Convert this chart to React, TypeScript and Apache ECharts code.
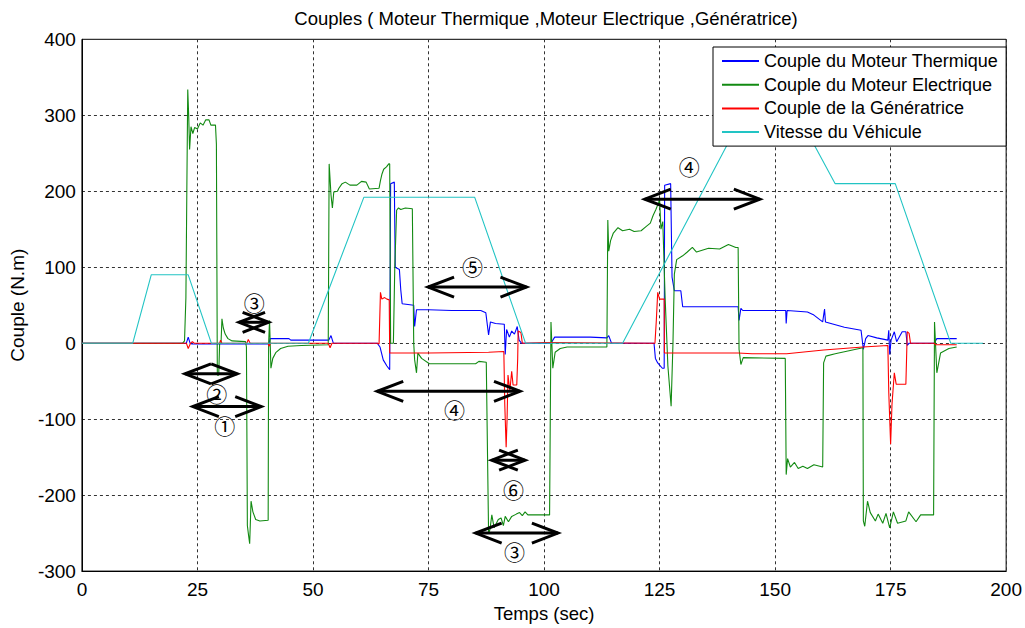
import React, { useEffect, useRef } from "react";
import * as echarts from "echarts";

const FONT = "'Liberation Sans', Arial, sans-serif";
const CIRCLED_FONT = "'Noto Sans CJK JP', 'DejaVu Sans', sans-serif";

const seriesNames = [
  "Couple du Moteur Thermique",
  "Couple du Moteur Electrique",
  "Couple de la Génératrice",
  "Vitesse du Véhicule",
];
const seriesColors = ["#0000ff", "#128a12", "#ff0000", "#22c4c4"];

// Couple du Moteur Thermique [temps (s), couple (N.m)]
const coupleMT: [number, number][] = [
  [0, 0], [22.6, 0], [23.0, 8], [23.4, 0], [23.8, -1], [40.5, -1], [40.7, 6], [44.8, 6], [45.2, 4],
  [53.4, 4], [53.9, 10], [54.4, 0], [63.9, 0], [64.5, -5], [65.2, -22], [66.0, -30], [66.6, -35],
  [66.8, 210], [67.6, 212], [67.8, 100], [68.7, 97], [69.0, 70], [69.3, 52], [71.8, 50], [72.0, 22],
  [72.4, 44], [75, 44], [80, 43], [86.3, 43], [87.4, 40], [88.0, 11], [88.4, 28], [89.5, 26],
  [91.4, 25], [91.6, -15], [91.9, 18], [92.5, 8], [93.0, 16], [93.6, 12], [94.2, 22], [94.6, 4],
  [95.1, 0], [101.5, 0], [102.3, 8], [110, 8], [113.6, 7], [114.0, 10], [114.6, 0], [123.8, 0],
  [124.1, -20], [124.6, -26], [125.6, -33], [126.0, -33], [126.1, 208], [127.4, 210], [127.7, 87],
  [128.2, 69], [129.6, 69], [130.0, 48], [142.0, 48], [142.2, 30], [142.6, 46], [143.0, 43],
  [152.3, 43], [152.4, 26], [152.6, 43], [157, 41], [158.4, 37], [160.3, 28], [160.7, 45],
  [160.9, 28], [165, 21], [168.6, 17], [169.1, -8], [169.6, 6], [170.1, 10], [172, 7], [174.4, 4],
  [174.6, 17], [174.8, -15], [175.1, 4], [175.8, 15], [176.3, 2], [177.5, 15], [178.3, 15],
  [178.6, -3], [179, 0], [184.4, 0], [185.0, 6], [189.3, 6],
];

// Couple du Moteur Electrique
const coupleME: [number, number][] = [
  [0, 0], [21.8, 0], [22.2, 3], [22.5, 60], [22.7, 200], [22.9, 334], [23.1, 300], [23.3, 255],
  [23.6, 285], [24.0, 276], [24.4, 284], [25.0, 282], [25.6, 290], [26.2, 287], [26.8, 294],
  [27.5, 294], [27.9, 287], [28.9, 287], [29.1, 262], [29.3, -42], [29.6, -42], [29.8, 0],
  [30.1, 0], [30.3, 32], [30.6, 20], [31.0, 12], [31.6, 6], [32.5, 3], [35.4, 2], [35.6, -5],
  [35.8, -240], [36.0, -250], [36.3, -264], [36.6, -208], [37.0, -222], [37.6, -232], [38.5, -234],
  [40.3, -233], [40.4, 0], [40.6, 30], [40.9, -33], [41.3, -20], [42.0, -12], [43.0, -7],
  [44.6, -4], [47.5, -3], [53.3, -2], [53.5, 236], [53.9, 195], [54.2, 178], [54.5, 199],
  [55.3, 200], [55.6, 204], [56.3, 210], [57.0, 212], [58.0, 208], [59.5, 208], [60.5, 213],
  [61.5, 212], [62.2, 203], [64.3, 204], [64.6, 214], [64.9, 222], [65.3, 229], [65.9, 232],
  [66.4, 236], [66.6, 236], [66.8, 0], [67.4, 0], [67.7, 100], [68.1, 175], [68.5, 178],
  [69.0, 176], [70.0, 178], [71.5, 177], [71.8, 0], [72.0, -22], [72.4, -39], [72.7, -13],
  [73.5, -20], [75.2, -27], [85.2, -27], [85.9, -24], [87.5, -25], [88.0, -251], [88.3, -245],
  [88.7, -226], [89.2, -243], [90.1, -232], [90.7, -230], [91.2, -240], [91.6, -228], [92.3, -235],
  [93.0, -228], [94.0, -225], [94.7, -223], [95.3, -227], [95.9, -222], [96.5, -226], [101.2, -226],
  [101.5, 28], [101.9, -33], [102.4, -12], [103.5, -7], [105.0, -5], [113.6, -5], [113.8, 162],
  [114.0, 121], [114.4, 135], [115.0, 145], [116.0, 152], [117.0, 148], [118.5, 150], [119.5, 147],
  [121.0, 148], [122.0, 153], [123.0, 158], [123.6, 168], [124.2, 176], [124.8, 185], [125.0, 190],
  [125.3, 150], [125.7, 160], [126.2, 60], [126.8, -30], [127.5, -83], [127.9, 0], [128.2, 91],
  [128.7, 110], [130.0, 115], [131.0, 120], [132.1, 126], [133.0, 120], [135.6, 125], [138.0, 124],
  [139.9, 130], [141.5, 126], [142.0, 126], [142.2, -8], [142.6, -28], [143.1, -19], [152.2, -20],
  [152.4, -173], [152.7, -152], [153.3, -163], [154.2, -157], [155.0, -165], [156.0, -162],
  [157.0, -165], [158.4, -160], [160.3, -163], [160.5, -26], [161.0, -17], [163.0, -14],
  [166.0, -10], [169.0, -6], [169.1, -234], [169.4, -241], [170.0, -208], [170.6, -223],
  [171.7, -234], [172.3, -225], [173.3, -237], [174.0, -224], [174.8, -243], [175.6, -222],
  [176.5, -237], [178.3, -234], [178.9, -222], [180.5, -235], [181.5, -226], [184.3, -226],
  [184.5, 28], [185.0, -39], [185.8, -13], [187.6, -7], [189.3, -5],
];

// Couple de la Génératrice
const coupleGen: [number, number][] = [
  [0, 0], [22.6, 0], [23.0, -7], [23.5, 0], [23.9, 2], [24.3, 0], [29.8, 0], [30.0, 4], [30.3, 0],
  [35.7, 0], [36.0, 5], [36.4, 0], [40.3, 0], [40.5, -4], [40.8, 0], [53.3, 0], [53.7, -6],
  [54.1, 0], [64.0, 0], [64.3, -1], [64.6, 67], [64.9, 58], [65.5, 60], [66.0, 58], [66.5, 57],
  [66.6, -13], [75, -13], [88, -12], [91.3, -11], [91.5, -80], [91.8, -137], [92.0, -100],
  [92.2, -42], [92.6, -63], [93.0, -37], [93.3, -55], [94.1, -55], [94.3, -20], [94.4, 16],
  [95.0, 14], [95.3, 0], [100, 1], [101.5, 1], [124.0, 0], [124.3, 30], [124.6, 67], [125.0, 58],
  [126.0, 58], [126.05, -13], [142, -13], [145, -14], [152.5, -14], [160.5, -9], [169, -5],
  [174.4, -3], [174.6, -65], [175.0, -133], [175.3, -80], [175.8, -39], [176.2, -54], [178.3, -54],
  [178.6, 15], [179.0, 13], [179.3, 0], [184.4, 0], [184.7, -2], [189.3, -2],
];

// Vitesse du Véhicule (échelle du graphe)
const vitesse: [number, number][] = [
  [0, 0], [11, 0], [15, 90], [23, 90], [28, 0], [49, 0], [61, 192], [85, 192], [96, 0], [117, 0],
  [143, 300], [155, 300], [163, 210], [176, 210], [188, 0], [195, 0],
];

// Annotations: [x début, x fin, y, x étiquette, y étiquette]
const arrowSpans: [number, number, number, number, number][] = [
  [34.0, 40.4, 27.5, 37.3, 54.7],
  [22.3, 33.6, -40.3, 29.2, -65.5],
  [24.0, 38.8, -83.5, 30.9, -108],
  [74.9, 96.2, 73.8, 84.5, 101],
  [63.9, 94.8, -63.3, 80.6, -87],
  [88.7, 95.9, -154, 93.4, -192],
  [85.2, 103.0, -250, 93.6, -274],
  [121.8, 146.7, 189.5, 131.4, 232.8],
];
const arrowLabels = ["③", "②", "①", "⑤", "④", "⑥", "③", "④"];

const title = "Couples ( Moteur Thermique ,Moteur Electrique ,Génératrice)";

export default function App() {
  const ref = useRef<HTMLDivElement>(null);

  useEffect(() => {
    if (!ref.current) return;
    const chart = echarts.init(ref.current, undefined, { renderer: "svg" });
    const lineData = [coupleMT, coupleME, coupleGen, vitesse];

    const renderArrow = (params: any, api: any) => {
      const p1 = api.coord([api.value(0), api.value(2)]);
      const p2 = api.coord([api.value(1), api.value(2)]);
      const pl = api.coord([api.value(3), api.value(4)]);
      const L = 26;
      const H = 10;
      const style = { stroke: "#000", lineWidth: 3, fill: "none" };
      return {
        type: "group",
        children: [
          { type: "line", shape: { x1: p1[0], y1: p1[1], x2: p2[0], y2: p2[1] }, style },
          {
            type: "polyline",
            shape: { points: [[p1[0] + L, p1[1] - H], [p1[0], p1[1]], [p1[0] + L, p1[1] + H]] },
            style,
          },
          {
            type: "polyline",
            shape: { points: [[p2[0] - L, p2[1] - H], [p2[0], p2[1]], [p2[0] - L, p2[1] + H]] },
            style,
          },
          {
            type: "text",
            x: pl[0],
            y: pl[1],
            style: {
              text: arrowLabels[params.dataIndex],
              fontSize: 21,
              lineHeight: 21,
              fontFamily: CIRCLED_FONT,
              fill: "#000",
              align: "center",
              verticalAlign: "middle",
            },
          },
        ],
      };
    };

    chart.setOption({
      animation: false,
      backgroundColor: "#fff",
      title: {
        text: title,
        left: 546,
        top: 9,
        padding: 0,
        textAlign: "center",
        textStyle: { fontFamily: FONT, fontSize: 18.5, fontWeight: "normal", color: "#000" },
      },
      grid: {
        left: 77.3,
        right: 10,
        top: 39.3,
        bottom: 48.7,
        show: true,
        borderColor: "#000",
        borderWidth: 1,
        backgroundColor: "transparent",
      },
      legend: {
        data: seriesNames,
        orient: "vertical",
        left: 713,
        top: 47,
        padding: [5, 8, 5, 8],
        itemWidth: 37,
        itemHeight: 18,
        itemGap: 5.7,
        backgroundColor: "#fff",
        borderColor: "#000",
        borderWidth: 1,
        borderRadius: 0,
        selectedMode: false,
        z: 10,
        itemStyle: { opacity: 0 },
        textStyle: { fontFamily: FONT, fontSize: 18, color: "#000", lineHeight: 18 },
      },
      xAxis: {
        type: "value",
        min: 0,
        max: 200,
        interval: 25,
        name: "Temps (sec)",
        nameLocation: "middle",
        nameGap: 27,
        nameTextStyle: { fontFamily: FONT, fontSize: 18.5, color: "#000" },
        axisLine: { show: true, onZero: false, lineStyle: { color: "#000", width: 1 } },
        axisTick: { show: false },
        axisLabel: { fontFamily: FONT, fontSize: 19, color: "#000", margin: 9 },
        splitLine: { show: true, lineStyle: { color: "#333", width: 1, type: [3, 3] } },
      },
      yAxis: {
        type: "value",
        min: -300,
        max: 400,
        interval: 100,
        name: "Couple (N.m)",
        nameLocation: "middle",
        nameGap: 48,
        nameTextStyle: { fontFamily: FONT, fontSize: 19, color: "#000" },
        axisLine: { show: true, onZero: false, lineStyle: { color: "#000", width: 1 } },
        axisTick: { show: false },
        axisLabel: { fontFamily: FONT, fontSize: 19, color: "#000", margin: 6 },
        splitLine: { show: true, lineStyle: { color: "#333", width: 1, type: [3, 3] } },
      },
      series: [
        ...lineData.map((d, i) => ({
          name: seriesNames[i],
          type: "line",
          data: d,
          symbol: "none",
          showSymbol: false,
          lineStyle: { color: seriesColors[i], width: 1.1 },
          itemStyle: { color: seriesColors[i] },
          z: 2,
        })),
        {
          name: "annotations",
          type: "custom",
          coordinateSystem: "cartesian2d",
          data: arrowSpans,
          encode: { x: [0, 1, 3], y: [2, 4] },
          renderItem: renderArrow,
          clip: false,
          silent: true,
          z: 5,
        },
      ],
    });

    return () => chart.dispose();
  }, []);

  return (
    <div
      ref={ref}
      style={{ position: "fixed", left: 0, top: 0, width: 1025, height: 628, background: "#fff" }}
    />
  );
}
